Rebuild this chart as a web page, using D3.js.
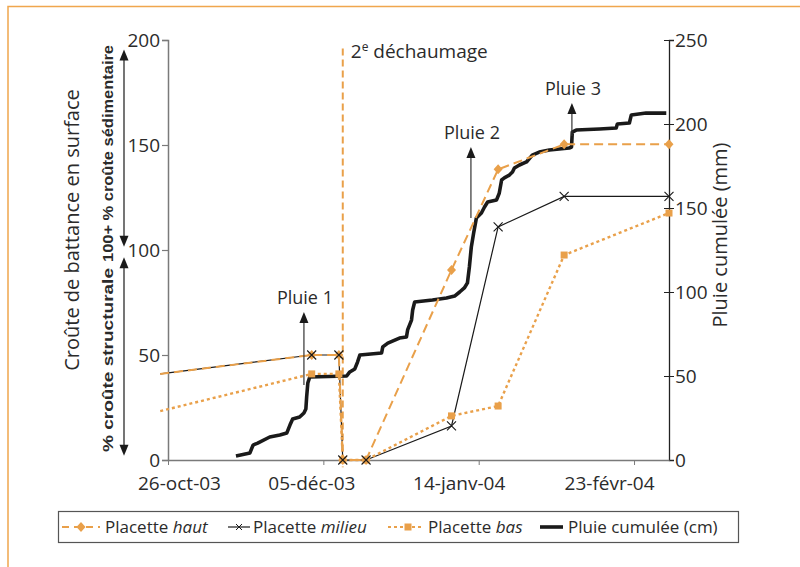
<!DOCTYPE html>
<html><head><meta charset="utf-8">
<script src="https://cdn.jsdelivr.net/npm/d3@7"></script>
<style>
body{margin:0;background:#fff;}
svg text{font-family:"Open Sans","Noto Sans",sans-serif;fill:#2b2b2b;}
</style></head><body>
<svg id="chart" width="800" height="567"></svg>
<script>
// ---------- DATA ----------
const measureDates = ["2003-10-24","2003-12-02","2003-12-09","2003-12-10","2003-12-16","2004-01-07","2004-01-19","2004-02-05","2004-03-03"];
const hautValues   = [41, 50, 50, 0, 0, 90.5, 138.4, 150.3, 150.3];
const milieuValues = [41, 50, 50, 0, 0, 16.2, 111, 125.5, 125.5];
const basValues    = [23.3, 41, 41, 0, 0, 21, 25.7, 97.6, 117.6];

// cumulative rainfall: days since 26-oct-03, mm
const rainDays = [17.5,21.1,21.9,23.1,26.2,28.8,30.6,31.4,32.1,33.9,35.0,35.5,35.7,36.0,36.5,46.0,46.8,48.1,48.8,49.4,55.0,55.3,56.6,59.6,61.4,61.7,62.7,63.0,63.5,68.1,71.7,73.8,75.1,76.3,77.1,77.6,78.1,78.7,79.4,80.7,81.5,82.3,84.6,85.3,85.9,86.6,87.9,88.7,89.2,90.5,92.3,93.8,95.6,98.2,103.3,103.9,104.1,105.1,111.1,115.4,115.7,118.8,119.3,123.1,128.3];
const rainMM   = [2.4,4.2,8.9,10.1,13.7,14.9,16.1,20.8,24.4,25.6,28.0,30.4,37.5,45.8,49.4,50.0,52.4,54.2,58.3,62.5,63.7,67.3,69.6,72.6,73.2,77.4,83.3,89.3,94.0,95.2,96.4,97.6,100.0,102.4,105.4,114.9,126.8,135.1,144.0,147.0,150.6,153.6,154.8,158.9,166.7,167.9,169.6,171.4,173.8,175.6,177.4,181.5,183.3,184.5,185.7,186.3,195.2,196.4,197.0,197.6,200.0,200.6,205.4,206.5,206.5];

const xTickDates  = ["2003-10-26","2003-12-05","2004-01-14","2004-02-23"];
const xTickLabels = ["26-oct-03","05-déc-03","14-janv-04","23-févr-04"];
const leftTicks   = [0, 50, 100, 150, 200];
const rightTicks  = [0, 50, 100, 150, 200, 250];
const seriesNames = ["haut", "milieu", "bas"];
const rainLegend  = "Pluie cumulée (cm)";

const pluieLabels = ["Pluie 1", "Pluie 2", "Pluie 3"];
const pluieDates  = ["2003-11-30", "2004-01-12", "2004-02-07"];
const pluieFrom   = [35.7, 115.2, 154.3];
const pluieTo     = [70.5, 149, 170];
const dechaumageDate = "2003-12-10";

// ---------- SETUP ----------
const parse = d3.utcParse("%Y-%m-%d");
const start = parse("2003-10-26");
const svg = d3.select("#chart");
const orange = "#E9A04A";

const x = d3.scaleUtc().domain([start, parse("2004-03-03")]).range([168, 669]);
const yL = d3.scaleLinear().domain([0, 200]).range([460, 40]);
const yR = d3.scaleLinear().domain([0, 250]).range([460, 40]);

// frame
svg.append("path").attr("d", "M8,567 V6.5 H800").attr("fill", "none")
  .attr("stroke", "#F0A64E").attr("stroke-width", 1.5);

function arrowHead(g, ax, ay, up) {
  const s = up ? 1 : -1;
  g.append("path").attr("d", `M${ax},${ay}L${ax+4.5},${ay+11*s}L${ax-4.5},${ay+11*s}Z`).attr("fill", "#1a1a1a");
}
function vArrow(ax, yTop, yBot, both, color) {
  const g = svg.append("g");
  g.append("line").attr("x1", ax).attr("x2", ax).attr("y1", yTop + 6).attr("y2", both ? yBot - 6 : yBot)
    .attr("stroke", color).attr("stroke-width", 1.2);
  arrowHead(g, ax, yTop, true);
  if (both) arrowHead(g, ax, yBot, false);
}

// ---------- AXES ----------
const axL = svg.append("g").attr("transform", "translate(168,0)")
  .call(d3.axisLeft(yL).tickValues(leftTicks).tickSize(6).tickPadding(2));
axL.select(".domain").attr("stroke", "#7a7a7a").attr("stroke-width", 1.5);
axL.selectAll(".tick line").attr("stroke", "#7a7a7a").attr("stroke-width", 1.2);
axL.selectAll("text").style("font-size", "19px").attr("fill", "#2b2b2b");

const axR = svg.append("g").attr("transform", "translate(669,0)")
  .call(d3.axisRight(yR).tickValues(rightTicks).tickSize(5).tickPadding(1));
axR.select(".domain").attr("stroke", "#222").attr("stroke-width", 1.3);
axR.selectAll(".tick line").attr("x1", -5).attr("stroke", "#222");
axR.selectAll("text").style("font-size", "19px").attr("fill", "#2b2b2b");

const xLabelDx = [11, -12, -20, -25];
const axX = svg.append("g").attr("transform", "translate(0,460)")
  .call(d3.axisBottom(x).tickValues(xTickDates.map(parse)).tickSize(5).tickPadding(12)
    .tickFormat((d, i) => xTickLabels[i]).tickSizeOuter(0));
axX.select(".domain").attr("stroke", "#7a7a7a").attr("stroke-width", 1.5);
axX.selectAll(".tick line").attr("stroke", "#7a7a7a");
axX.selectAll("text").style("font-size", "19px").attr("fill", "#2b2b2b").attr("dx", (d, i) => xLabelDx[i]);

// axis titles
svg.append("text").attr("transform", "translate(79,230) rotate(-90)").attr("text-anchor", "middle")
  .style("font-size", "20px").text("Croûte de battance en surface");
svg.append("text").attr("transform", "translate(727,235) rotate(-90)").attr("text-anchor", "middle")
  .style("font-size", "20px").text("Pluie cumulée (mm)");

// left annotations (bold)
const boldFont = '"Liberation Sans Narrow","Arial Narrow","Liberation Sans",sans-serif';
svg.append("text").attr("transform", `translate(113,${(45+262)/2}) rotate(-90)`).attr("text-anchor", "middle")
  .style("font-family", boldFont).style("font-weight", "bold").style("font-size", "15px")
  .attr("textLength", 217).attr("lengthAdjust", "spacingAndGlyphs").text("100+ % croûte sédimentaire");
svg.append("text").attr("transform", `translate(113,${(268+452)/2}) rotate(-90)`).attr("text-anchor", "middle")
  .style("font-family", boldFont).style("font-weight", "bold").style("font-size", "15px")
  .attr("textLength", 184).attr("lengthAdjust", "spacingAndGlyphs").text("% croûte structurale");
vArrow(124, yL(195.5), yL(101.5), true, "#1a1a1a");
vArrow(124, yL(96.5), yL(2), true, "#1a1a1a");

// ---------- DECHAUMAGE ----------
const xd = x(parse(dechaumageDate));
svg.append("line").attr("x1", xd).attr("x2", xd).attr("y1", yL(196)).attr("y2", yL(-3.5))
  .attr("stroke", orange).attr("stroke-width", 2).attr("stroke-dasharray", "7,4");
const dl = svg.append("text").attr("x", xd + 8).attr("y", 58).style("font-size", "19px");
dl.append("tspan").text("2");
dl.append("tspan").attr("dy", -7).style("font-size", "12px").text("e");
dl.append("tspan").attr("dy", 7).text(" déchaumage");

// ---------- RAIN ----------
const rainData = rainDays.map((d, i) => ({date: new Date(start.getTime() + d * 864e5), v: rainMM[i]}));
svg.append("path").datum(rainData)
  .attr("d", d3.line().x(d => x(d.date)).y(d => yR(d.v)))
  .attr("fill", "none").attr("stroke", "#1a1a1a").attr("stroke-width", 3.6).attr("stroke-linejoin", "round");

// ---------- SERIES ----------
const mk = vals => measureDates.map((d, i) => ({date: parse(d), v: vals[i]}));
const lineL = d3.line().x(d => x(d.date)).y(d => yL(d.v));
const haut = mk(hautValues), milieu = mk(milieuValues), bas = mk(basValues);
const visible = arr => arr.filter(d => d.date >= start);

svg.append("path").datum(milieu).attr("d", lineL).attr("fill", "none")
  .attr("stroke", "#1a1a1a").attr("stroke-width", 1.2);
svg.append("path").datum(bas).attr("d", lineL).attr("fill", "none")
  .attr("stroke", orange).attr("stroke-width", 2.4).attr("stroke-dasharray", "3,3");
svg.append("path").datum(haut).attr("d", lineL).attr("fill", "none")
  .attr("stroke", orange).attr("stroke-width", 2).attr("stroke-dasharray", "9,5");

svg.append("g").selectAll("rect").data(visible(bas)).join("rect")
  .attr("x", d => x(d.date) - 3.5).attr("y", d => yL(d.v) - 3.5).attr("width", 7).attr("height", 7).attr("fill", orange);
svg.append("g").selectAll("path").data(visible(haut)).join("path")
  .attr("d", d => { const cx = x(d.date), cy = yL(d.v); return `M${cx},${cy-5}L${cx+4.5},${cy}L${cx},${cy+5}L${cx-4.5},${cy}Z`; })
  .attr("fill", orange);
svg.append("g").selectAll("path").data(visible(milieu)).join("path")
  .attr("d", d => { const cx = x(d.date), cy = yL(d.v); return `M${cx-4.5},${cy-4.5}L${cx+4.5},${cy+4.5}M${cx-4.5},${cy+4.5}L${cx+4.5},${cy-4.5}`; })
  .attr("stroke", "#1a1a1a").attr("stroke-width", 1.1);

// ---------- PLUIE ANNOTATIONS ----------
pluieLabels.forEach((lab, i) => {
  const px = x(parse(pluieDates[i]));
  vArrow(px, yL(pluieTo[i]), yL(pluieFrom[i]), false, "#333");
  svg.append("text").attr("x", px + 1).attr("y", yL(pluieTo[i]) - 8).attr("text-anchor", "middle")
    .style("font-size", "18px").text(lab);
});

// ---------- LEGEND ----------
const lg = svg.append("g");
lg.append("rect").attr("x", 58.5).attr("y", 511.5).attr("width", 680).attr("height", 31)
  .attr("fill", "#fff").attr("stroke", "#555").attr("stroke-width", 1.2);
const ly = 527, lty = 533;
const legItems = [
  {name: seriesNames[0], s0: 62, s1: 100, m: 81, tx: 105},
  {name: seriesNames[1], s0: 228, s1: 250, m: 239, tx: 253},
  {name: seriesNames[2], s0: 388, s1: 424, m: 408, tx: 428}
];
lg.append("line").attr("x1", legItems[0].s0).attr("x2", legItems[0].s1).attr("y1", ly).attr("y2", ly)
  .attr("stroke", orange).attr("stroke-width", 2).attr("stroke-dasharray", "7,5");
lg.append("path").attr("d", `M${legItems[0].m},${ly-5}l4.5,5l-4.5,5l-4.5,-5Z`).attr("fill", orange);
lg.append("line").attr("x1", legItems[1].s0).attr("x2", legItems[1].s1).attr("y1", ly).attr("y2", ly)
  .attr("stroke", "#1a1a1a").attr("stroke-width", 1.2);
lg.append("path").attr("d", `M${legItems[1].m-3},${ly-3}l6,6M${legItems[1].m-3},${ly+3}l6,-6`).attr("stroke", "#1a1a1a");
lg.append("line").attr("x1", legItems[2].s0).attr("x2", legItems[2].s1).attr("y1", ly).attr("y2", ly)
  .attr("stroke", orange).attr("stroke-width", 2.2).attr("stroke-dasharray", "3,3");
lg.append("rect").attr("x", legItems[2].m - 3.5).attr("y", ly - 3.5).attr("width", 7).attr("height", 7).attr("fill", orange);
legItems.forEach(it => {
  const t = lg.append("text").attr("x", it.tx).attr("y", lty).style("font-size", "17px");
  t.append("tspan").text("Placette ");
  t.append("tspan").style("font-style", "italic").text(it.name);
});
lg.append("line").attr("x1", 540).attr("x2", 563).attr("y1", ly).attr("y2", ly)
  .attr("stroke", "#1a1a1a").attr("stroke-width", 3.6);
lg.append("text").attr("x", 568).attr("y", lty).style("font-size", "17px").text(rainLegend);
</script>
</body></html>
